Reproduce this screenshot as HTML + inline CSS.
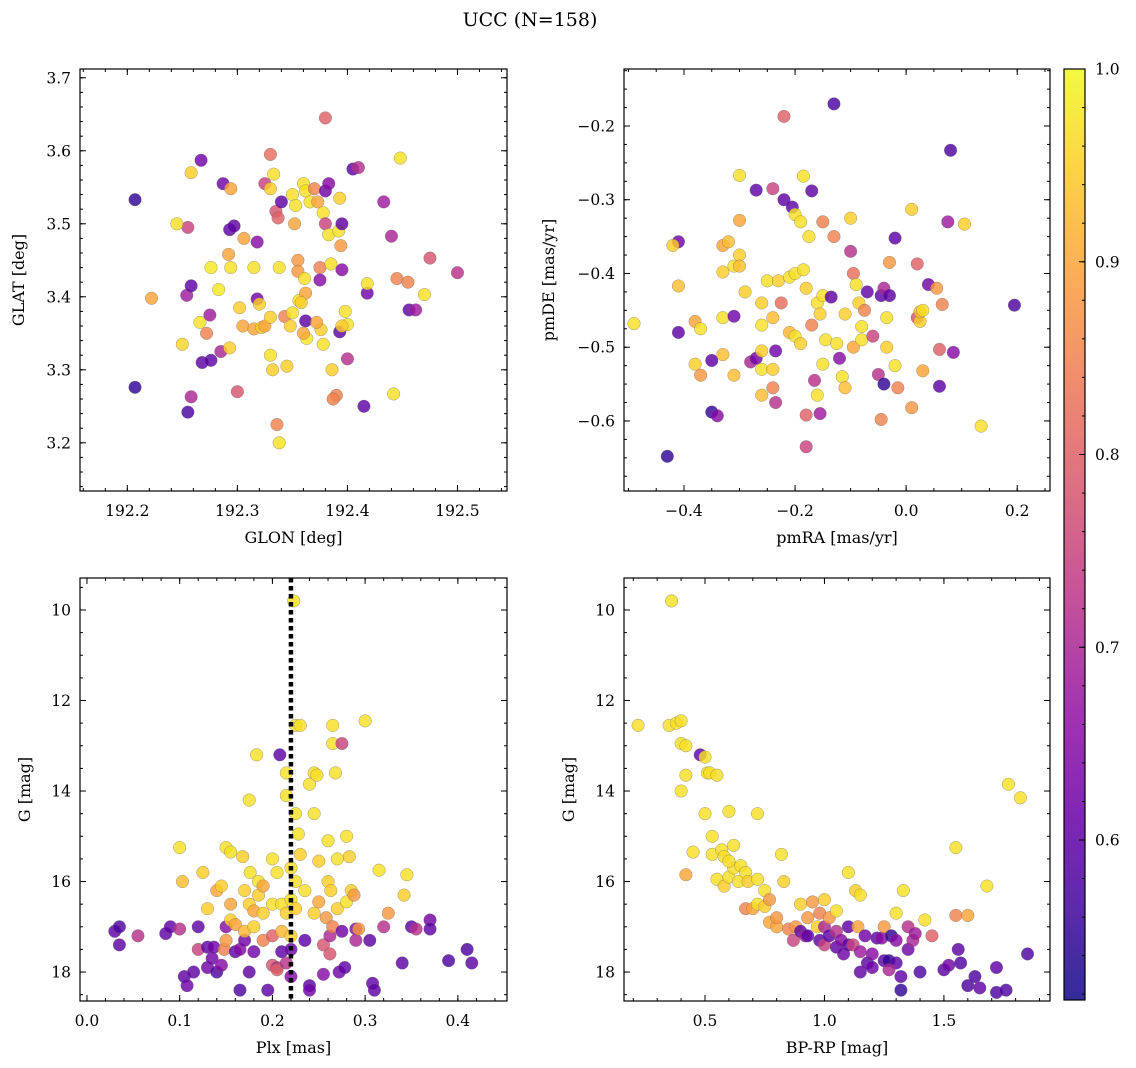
<!DOCTYPE html>
<html><head><meta charset="utf-8">
<style>
body{margin:0;background:#fff;}
svg{display:block;font-family:"DejaVu Serif","Liberation Serif",serif;}
</style></head>
<body>
<svg id="fig" width="1136" height="1068" viewBox="0 0 1136 1068" xmlns="http://www.w3.org/2000/svg">
<rect width="1136" height="1068" fill="#fff"/>
<text x="530" y="26" font-size="19" text-anchor="middle">UCC (N=158)</text>
</svg>
<script>
// ---- data arrays: [x, y, colorValue] ----
const glonGlat = [[192.207,3.533,0.55],[192.207,3.276,0.55],[192.255,3.242,0.57],[192.258,3.263,0.7],[192.254,3.402,0.68],[192.258,3.415,0.6],[192.255,3.495,0.75],[192.258,3.570,0.95],[192.267,3.587,0.62],[192.245,3.500,0.97],[192.222,3.398,0.9],[192.250,3.335,0.96],[192.266,3.365,0.97],[192.268,3.310,0.6],[192.276,3.313,0.6],[192.275,3.375,0.68],[192.276,3.440,0.98],[192.272,3.350,0.85],[192.285,3.325,0.7],[192.283,3.410,0.98],[192.287,3.555,0.62],[192.294,3.548,0.9],[192.293,3.492,0.6],[192.297,3.497,0.6],[192.294,3.440,0.97],[192.292,3.458,0.9],[192.293,3.330,0.95],[192.300,3.270,0.78],[192.302,3.385,0.95],[192.305,3.360,0.9],[192.306,3.480,0.9],[192.315,3.356,0.9],[192.315,3.440,0.97],[192.318,3.475,0.65],[192.318,3.397,0.62],[192.320,3.390,0.95],[192.322,3.358,0.95],[192.325,3.555,0.75],[192.330,3.548,0.95],[192.330,3.595,0.82],[192.333,3.568,0.97],[192.335,3.517,0.78],[192.337,3.508,0.8],[192.338,3.440,0.97],[192.336,3.225,0.85],[192.338,3.200,0.97],[192.332,3.300,0.95],[192.330,3.320,0.97],[192.340,3.530,0.6],[192.343,3.373,0.85],[192.345,3.305,0.95],[192.348,3.360,0.95],[192.350,3.540,0.97],[192.352,3.500,0.9],[192.355,3.450,0.88],[192.355,3.435,0.88],[192.356,3.395,0.97],[192.360,3.555,0.97],[192.362,3.545,0.97],[192.366,3.530,0.97],[192.361,3.425,0.97],[192.362,3.367,0.6],[192.362,3.405,0.9],[192.358,3.392,0.95],[192.363,3.343,0.98],[192.370,3.548,0.85],[192.373,3.530,0.9],[192.375,3.440,0.85],[192.378,3.515,0.97],[192.380,3.545,0.62],[192.383,3.555,0.65],[192.380,3.500,0.75],[192.380,3.645,0.8],[192.375,3.423,0.65],[192.376,3.355,0.95],[192.378,3.335,0.97],[192.383,3.485,0.97],[192.385,3.445,0.97],[192.386,3.300,0.95],[192.390,3.265,0.85],[192.387,3.260,0.85],[192.392,3.490,0.97],[192.393,3.535,0.95],[192.394,3.470,0.88],[192.395,3.437,0.65],[192.395,3.500,0.6],[192.393,3.352,0.6],[192.400,3.362,0.97],[192.398,3.380,0.97],[192.400,3.315,0.72],[192.405,3.575,0.6],[192.410,3.577,0.72],[192.415,3.250,0.6],[192.418,3.405,0.62],[192.418,3.418,0.97],[192.433,3.530,0.68],[192.440,3.483,0.7],[192.445,3.425,0.85],[192.448,3.590,0.97],[192.455,3.420,0.85],[192.456,3.382,0.6],[192.462,3.382,0.68],[192.442,3.267,0.97],[192.470,3.403,0.97],[192.475,3.453,0.78],[192.500,3.433,0.72],[192.325,3.360,0.9],[192.330,3.372,0.95],[192.350,3.378,0.97],[192.360,3.350,0.9],[192.372,3.365,0.9],[192.395,3.360,0.95],[192.353,3.525,0.97]];
const pmraPmde = [[-0.49,-0.468,0.97],[-0.43,-0.648,0.55],[-0.41,-0.357,0.62],[-0.42,-0.362,0.95],[-0.41,-0.417,0.93],[-0.41,-0.48,0.6],[-0.38,-0.465,0.9],[-0.37,-0.475,0.97],[-0.38,-0.523,0.95],[-0.37,-0.538,0.88],[-0.35,-0.588,0.55],[-0.35,-0.518,0.6],[-0.34,-0.593,0.65],[-0.33,-0.51,0.93],[-0.33,-0.46,0.97],[-0.33,-0.398,0.95],[-0.33,-0.362,0.9],[-0.32,-0.357,0.93],[-0.31,-0.538,0.93],[-0.31,-0.458,0.62],[-0.31,-0.39,0.97],[-0.30,-0.267,0.97],[-0.30,-0.328,0.9],[-0.30,-0.375,0.95],[-0.30,-0.39,0.93],[-0.29,-0.425,0.95],[-0.28,-0.52,0.7],[-0.27,-0.515,0.62],[-0.27,-0.287,0.6],[-0.26,-0.44,0.95],[-0.26,-0.47,0.97],[-0.26,-0.505,0.95],[-0.26,-0.53,0.97],[-0.26,-0.565,0.93],[-0.25,-0.41,0.97],[-0.24,-0.285,0.75],[-0.24,-0.46,0.93],[-0.24,-0.53,0.95],[-0.235,-0.505,0.62],[-0.24,-0.555,0.85],[-0.235,-0.575,0.72],[-0.23,-0.41,0.95],[-0.225,-0.44,0.82],[-0.22,-0.30,0.6],[-0.22,-0.187,0.8],[-0.21,-0.405,0.97],[-0.21,-0.48,0.92],[-0.205,-0.31,0.6],[-0.20,-0.32,0.97],[-0.20,-0.40,0.97],[-0.20,-0.485,0.97],[-0.19,-0.495,0.95],[-0.19,-0.33,0.97],[-0.185,-0.268,0.97],[-0.185,-0.395,0.97],[-0.18,-0.42,0.95],[-0.18,-0.635,0.75],[-0.18,-0.592,0.8],[-0.175,-0.35,0.97],[-0.17,-0.288,0.6],[-0.17,-0.47,0.85],[-0.165,-0.545,0.72],[-0.16,-0.44,0.97],[-0.16,-0.565,0.97],[-0.155,-0.455,0.95],[-0.15,-0.43,0.97],[-0.15,-0.33,0.85],[-0.145,-0.49,0.97],[-0.15,-0.523,0.97],[-0.155,-0.59,0.68],[-0.135,-0.432,0.6],[-0.13,-0.17,0.58],[-0.13,-0.35,0.85],[-0.125,-0.495,0.97],[-0.12,-0.515,0.65],[-0.115,-0.54,0.97],[-0.11,-0.555,0.93],[-0.11,-0.455,0.95],[-0.10,-0.37,0.72],[-0.095,-0.50,0.9],[-0.095,-0.40,0.82],[-0.09,-0.415,0.97],[-0.085,-0.44,0.95],[-0.08,-0.472,0.97],[-0.08,-0.49,0.97],[-0.075,-0.45,0.85],[-0.07,-0.425,0.6],[-0.06,-0.485,0.75],[-0.05,-0.537,0.72],[-0.045,-0.598,0.85],[-0.04,-0.55,0.55],[-0.045,-0.43,0.6],[-0.04,-0.42,0.7],[-0.03,-0.43,0.6],[-0.035,-0.46,0.97],[-0.035,-0.5,0.95],[-0.02,-0.525,0.97],[-0.02,-0.352,0.6],[-0.015,-0.555,0.85],[0.01,-0.313,0.95],[0.01,-0.582,0.88],[0.02,-0.387,0.8],[0.02,-0.46,0.78],[0.025,-0.465,0.95],[0.025,-0.452,0.93],[0.03,-0.45,0.97],[0.03,-0.532,0.9],[0.04,-0.415,0.62],[0.055,-0.42,0.88],[0.06,-0.503,0.8],[0.06,-0.553,0.6],[0.065,-0.442,0.85],[0.075,-0.33,0.68],[0.08,-0.233,0.58],[0.085,-0.507,0.65],[0.105,-0.333,0.95],[0.135,-0.607,0.97],[0.195,-0.443,0.58],[-0.03,-0.385,0.88],[-0.10,-0.325,0.95]];
const plxG = [[0.03,17.1,0.6],[0.035,17.0,0.58],[0.035,17.4,0.6],[0.055,17.2,0.72],[0.085,17.15,0.6],[0.09,17.0,0.6],[0.1,15.25,0.97],[0.1,17.05,0.72],[0.103,16.0,0.93],[0.105,18.1,0.6],[0.108,18.3,0.62],[0.115,18.0,0.6],[0.12,17.5,0.75],[0.12,17.0,0.6],[0.125,15.8,0.95],[0.13,17.45,0.6],[0.13,17.9,0.62],[0.13,16.6,0.95],[0.135,17.7,0.62],[0.137,17.45,0.62],[0.14,18.0,0.58],[0.14,16.2,0.9],[0.145,16.1,0.95],[0.145,17.85,0.65],[0.148,17.5,0.85],[0.15,17.0,0.65],[0.15,17.3,0.88],[0.15,15.25,0.97],[0.155,15.35,0.97],[0.155,16.5,0.9],[0.155,16.85,0.95],[0.16,16.95,0.9],[0.16,17.55,0.6],[0.165,17.5,0.65],[0.165,18.4,0.58],[0.168,15.45,0.95],[0.17,16.2,0.95],[0.17,17.3,0.62],[0.17,17.1,0.92],[0.175,18.0,0.6],[0.175,16.5,0.95],[0.175,14.2,0.97],[0.176,15.8,0.97],[0.18,16.65,0.9],[0.18,17.0,0.95],[0.18,17.55,0.62],[0.183,13.2,0.97],[0.185,16.0,0.97],[0.185,16.3,0.95],[0.19,16.7,0.95],[0.19,17.3,0.85],[0.19,16.1,0.9],[0.195,18.4,0.6],[0.2,15.5,0.97],[0.2,16.5,0.97],[0.2,17.2,0.8],[0.2,17.85,0.78],[0.205,17.9,0.72],[0.205,17.95,0.8],[0.205,15.8,0.97],[0.208,13.2,0.6],[0.21,16.5,0.97],[0.21,17.1,0.92],[0.21,17.55,0.6],[0.215,13.6,0.97],[0.215,14.1,0.97],[0.215,16.7,0.95],[0.215,17.8,0.72],[0.22,15.7,0.97],[0.22,16.4,0.97],[0.22,17.2,0.95],[0.22,17.5,0.62],[0.22,18.1,0.65],[0.223,9.8,0.97],[0.225,12.55,0.97],[0.225,14.5,0.97],[0.225,16.0,0.97],[0.225,16.6,0.95],[0.228,14.95,0.97],[0.23,12.55,0.97],[0.23,15.4,0.95],[0.235,16.2,0.97],[0.235,17.3,0.6],[0.24,18.3,0.6],[0.24,18.4,0.62],[0.24,13.85,0.97],[0.245,13.6,0.97],[0.245,14.5,0.97],[0.245,16.7,0.95],[0.248,13.65,0.97],[0.25,15.55,0.95],[0.25,16.45,0.9],[0.255,17.4,0.78],[0.255,18.05,0.65],[0.258,16.8,0.88],[0.26,15.1,0.97],[0.26,16.0,0.95],[0.262,17.6,0.78],[0.262,17.2,0.7],[0.263,16.2,0.95],[0.265,12.55,0.97],[0.265,12.95,0.97],[0.265,17.0,0.85],[0.268,13.6,0.97],[0.27,15.5,0.97],[0.27,16.6,0.95],[0.272,18.0,0.62],[0.275,17.1,0.62],[0.275,12.95,0.75],[0.278,17.9,0.6],[0.28,16.45,0.97],[0.28,15.0,0.97],[0.283,15.45,0.95],[0.285,16.2,0.95],[0.288,16.3,0.88],[0.29,17.05,0.65],[0.29,17.3,0.7],[0.293,17.05,0.88],[0.3,12.45,0.97],[0.305,17.3,0.6],[0.308,18.25,0.6],[0.31,18.4,0.6],[0.315,15.75,0.97],[0.32,17.0,0.72],[0.325,16.7,0.88],[0.34,17.8,0.6],[0.342,16.3,0.95],[0.345,15.85,0.97],[0.35,17.0,0.6],[0.355,17.05,0.72],[0.37,16.85,0.62],[0.37,17.05,0.6],[0.39,17.75,0.58],[0.41,17.5,0.58],[0.415,17.8,0.6]];
const bprpG = [[0.36,9.8,0.97],[0.22,12.55,0.97],[0.35,12.55,0.97],[0.38,12.5,0.97],[0.4,12.45,0.97],[0.4,12.95,0.97],[0.42,13.0,0.97],[0.4,14.0,0.97],[0.42,13.65,0.97],[0.42,15.85,0.9],[0.45,15.35,0.97],[0.48,13.2,0.6],[0.5,13.25,0.97],[0.5,14.5,0.97],[0.51,13.6,0.97],[0.52,13.6,0.97],[0.53,15.0,0.97],[0.53,15.4,0.97],[0.55,13.65,0.97],[0.55,15.95,0.97],[0.57,15.3,0.97],[0.58,16.1,0.95],[0.58,15.45,0.97],[0.6,14.45,0.97],[0.6,15.9,0.97],[0.62,15.7,0.97],[0.62,15.2,0.97],[0.64,16.0,0.97],[0.65,15.65,0.97],[0.67,15.8,0.97],[0.67,16.6,0.85],[0.68,16.0,0.95],[0.7,16.6,0.9],[0.72,16.5,0.97],[0.72,15.95,0.97],[0.72,14.5,0.97],[0.75,16.2,0.97],[0.75,16.55,0.95],[0.77,16.4,0.88],[0.77,16.9,0.9],[0.8,17.0,0.9],[0.8,16.8,0.88],[0.82,15.4,0.97],[0.83,16.0,0.95],[0.85,17.05,0.85],[0.87,17.3,0.75],[0.88,17.0,0.88],[0.9,16.5,0.95],[0.9,17.1,0.6],[0.92,17.2,0.68],[0.93,16.8,0.88],[0.93,17.2,0.6],[0.95,16.45,0.88],[0.97,17.0,0.95],[0.98,16.7,0.85],[0.98,17.3,0.6],[1.0,17.4,0.75],[1.0,17.0,0.7],[1.0,16.4,0.95],[1.02,16.8,0.88],[1.02,17.2,0.6],[1.05,17.1,0.72],[1.05,17.45,0.6],[1.05,16.65,0.97],[1.07,17.3,0.65],[1.08,17.6,0.62],[1.1,17.0,0.6],[1.1,17.4,0.6],[1.1,15.8,0.97],[1.12,17.4,0.75],[1.13,16.2,0.95],[1.14,17.0,0.9],[1.15,17.55,0.68],[1.15,18.0,0.6],[1.15,16.3,0.97],[1.17,17.2,0.62],[1.18,17.8,0.6],[1.2,17.6,0.65],[1.2,17.9,0.62],[1.22,17.25,0.6],[1.24,17.25,0.65],[1.25,17.0,0.88],[1.25,17.75,0.6],[1.27,17.75,0.55],[1.28,17.2,0.55],[1.3,16.7,0.97],[1.3,17.3,0.65],[1.3,17.8,0.6],[1.32,18.1,0.6],[1.32,18.4,0.55],[1.33,16.2,0.97],[1.35,17.0,0.72],[1.35,17.5,0.62],[1.37,17.3,0.7],[1.38,17.15,0.68],[1.4,18.0,0.58],[1.42,16.85,0.97],[1.45,17.2,0.8],[1.5,17.95,0.6],[1.52,17.85,0.62],[1.55,16.75,0.85],[1.55,15.25,0.97],[1.56,17.5,0.6],[1.57,17.8,0.58],[1.6,16.75,0.9],[1.6,18.3,0.58],[1.63,18.1,0.58],[1.65,18.35,0.6],[1.68,16.1,0.97],[1.72,17.9,0.6],[1.72,18.45,0.58],[1.76,18.4,0.58],[1.77,13.85,0.97],[1.82,14.15,0.97],[1.85,17.6,0.58],[1.27,17.95,0.7],[0.6,15.55,0.97]];
const plxLine = 0.22;
const glonTicks = [192.2,192.3,192.4,192.5];
const glatTicks = [3.2,3.3,3.4,3.5,3.6,3.7];
const pmraTicks = [-0.4,-0.2,0.0,0.2];
const pmdeTicks = [-0.6,-0.5,-0.4,-0.3,-0.2];
const plxTicks = [0.0,0.1,0.2,0.3,0.4];
const gTicks = [10,12,14,16,18];
const bprpTicks = [0.5,1.0,1.5];
const cbarTicks = [0.6,0.7,0.8,0.9,1.0];
const cMin = 0.517, cMax = 1.0;

const NS="http://www.w3.org/2000/svg";
const svg=document.getElementById('fig');
const stops=['#0d0887','#41049d','#6a00a8','#8f0da4','#b12a90','#cc4778','#e16462','#f2844b','#fca636','#fcce25','#f0f921'];
function hex(h){return [1,3,5].map(i=>parseInt(h.substr(i,2),16));}
function plasma(v){let t=Math.max(0,Math.min(1,(v-cMin)/(cMax-cMin)))*10;let i=Math.min(9,Math.floor(t)),f=t-i;const a=hex(stops[i]),b=hex(stops[i+1]);return 'rgb('+a.map((x,k)=>Math.round(x+(b[k]-x)*f)).join(',')+')';}
function el(tag,attrs,parent){const e=document.createElementNS(NS,tag);for(const k in attrs)e.setAttribute(k,attrs[k]);(parent||svg).appendChild(e);return e;}
function fmt(v,d){let s=v.toFixed(d);return s.replace('-','\u2212');}

function panel(o){
  const g=el('g',{});
  
  
  const sx=v=>o.x0+(v-o.xmin)/(o.xmax-o.xmin)*(o.x1-o.x0);
  const sy=v=>o.inv? o.y0+(v-o.ymin)/(o.ymax-o.ymin)*(o.y1-o.y0) : o.y1-(v-o.ymin)/(o.ymax-o.ymin)*(o.y1-o.y0);
  // points
  o.data.forEach(d=>{
    const c=el('circle',{cx:sx(d[0]),cy:sy(d[1]),r:6.3,fill:plasma(d[2]),'fill-opacity':0.82,stroke:'#666','stroke-width':0.5,'stroke-opacity':0.6},g);
    
    
  });
  if(o.vline!==undefined){
    const l=el('line',{x1:sx(o.vline),x2:sx(o.vline),y1:o.y0,y2:o.y1,stroke:'#000','stroke-width':4.5,'stroke-dasharray':'4.5,3.5'},g);
    
    
  }
  const fr=el('rect',{x:o.x0,y:o.y0,width:o.x1-o.x0,height:o.y1-o.y0,fill:'none',stroke:'#000','stroke-width':1.2},g);
  
  
  // x ticks
  const xm=o.xt[1]-o.xt[0], xmin=xm/o.xminor;
  for(let v=Math.ceil(o.xmin/xmin)*xmin; v<=o.xmax; v+=xmin){const p=sx(v);el('line',{x1:p,x2:p,y1:o.y1,y2:o.y1-3,stroke:'#000'},g);el('line',{x1:p,x2:p,y1:o.y0,y2:o.y0+3,stroke:'#000'},g);}
  o.xt.forEach(v=>{const p=sx(v);el('line',{x1:p,x2:p,y1:o.y1,y2:o.y1-6,stroke:'#000'},g);el('line',{x1:p,x2:p,y1:o.y0,y2:o.y0+6,stroke:'#000'},g);
    const t=el('text',{x:p,y:o.y1+25,'font-size':15.5,'text-anchor':'middle'},g);t.textContent=fmt(v,o.xd);
    
    });
  const ym=Math.abs(o.yt[1]-o.yt[0]), ymn=ym/o.yminor;
  for(let v=Math.ceil(o.ymin/ymn)*ymn; v<=o.ymax; v+=ymn){const p=sy(v);el('line',{x1:o.x0,x2:o.x0+3,y1:p,y2:p,stroke:'#000'},g);el('line',{x1:o.x1,x2:o.x1-3,y1:p,y2:p,stroke:'#000'},g);}
  o.yt.forEach(v=>{const p=sy(v);el('line',{x1:o.x0,x2:o.x0+6,y1:p,y2:p,stroke:'#000'},g);el('line',{x1:o.x1,x2:o.x1-6,y1:p,y2:p,stroke:'#000'},g);
    const t=el('text',{x:o.x0-9,y:p+5.5,'font-size':15.5,'text-anchor':'end'},g);t.textContent=fmt(v,o.yd);
    
    });
  const xl=el('text',{x:(o.x0+o.x1)/2,y:o.y1+52,'font-size':16,'text-anchor':'middle'},g);xl.textContent=o.xlabel;
  
  
  const yx=o.x0-o.ylo, yy=(o.y0+o.y1)/2;
  const yl=el('text',{x:yx,y:yy,'font-size':16,'text-anchor':'middle',transform:`rotate(-90 ${yx} ${yy})`},g);yl.textContent=o.ylabel;
  
  
}
panel({name:'glon-glat-panel',data:glonGlat,x0:80,x1:507,y0:69,y1:491,xmin:192.157,xmax:192.545,ymin:3.134,ymax:3.712,xt:glonTicks,yt:glatTicks,xd:1,yd:1,xminor:5,yminor:5,xlabel:'GLON [deg]',ylabel:'GLAT [deg]',ylo:56});
panel({name:'pm-panel',data:pmraPmde,x0:624,x1:1050,y0:69,y1:491,xmin:-0.508,xmax:0.259,ymin:-0.695,ymax:-0.1227,xt:pmraTicks,yt:pmdeTicks,xd:1,yd:1,xminor:4,yminor:4,xlabel:'pmRA [mas/yr]',ylabel:'pmDE [mas/yr]',ylo:70});
panel({name:'plx-g-panel',data:plxG,x0:80,x1:507,y0:578,y1:1001,xmin:-0.0075,xmax:0.453,ymin:9.293,ymax:18.64,inv:true,xt:plxTicks,yt:gTicks,xd:1,yd:0,xminor:5,yminor:4,xlabel:'Plx [mas]',ylabel:'G [mag]',ylo:50,vline:plxLine});
panel({name:'cmd-panel',data:bprpG,x0:624,x1:1050,y0:578,y1:1001,xmin:0.161,xmax:1.944,ymin:9.293,ymax:18.64,inv:true,xt:bprpTicks,yt:gTicks,xd:1,yd:0,xminor:5,yminor:4,xlabel:'BP-RP [mag]',ylabel:'G [mag]',ylo:50});

// colorbar
(function(){
  const x0=1064,x1=1085,y0=69,y1=1000;
  const cg=el('g',{});
  
  
  const defs=el('defs',{},cg);const lg=el('linearGradient',{id:'cb',x1:0,y1:1,x2:0,y2:0},defs);
  stops.forEach((s,i)=>el('stop',{offset:i/10,'stop-color':s},lg));
  // map cmin..cmax across the bar, plasma starts at cMin
  el('rect',{x:x0,y:y0,width:x1-x0,height:y1-y0,fill:'url(#cb)','fill-opacity':0.85},cg);
  el('rect',{x:x0,y:y0,width:x1-x0,height:y1-y0,fill:'none',stroke:'#000','stroke-width':1.2},cg);
  const sy=v=>y1-(v-cMin)/(cMax-cMin)*(y1-y0);
  for(let v=0.52; v<=1.0001; v+=0.02){const p=sy(v);el('line',{x1:x1,x2:x1-3,y1:p,y2:p,stroke:'#000'},cg);}
  cbarTicks.forEach(v=>{const p=sy(v);el('line',{x1:x1,x2:x1-6,y1:p,y2:p,stroke:'#000'},cg);
    const t=el('text',{x:x1+10,y:p+5.5,'font-size':15.5},cg);t.textContent=v.toFixed(1);
    
    });
})();
</script>
</body></html>
